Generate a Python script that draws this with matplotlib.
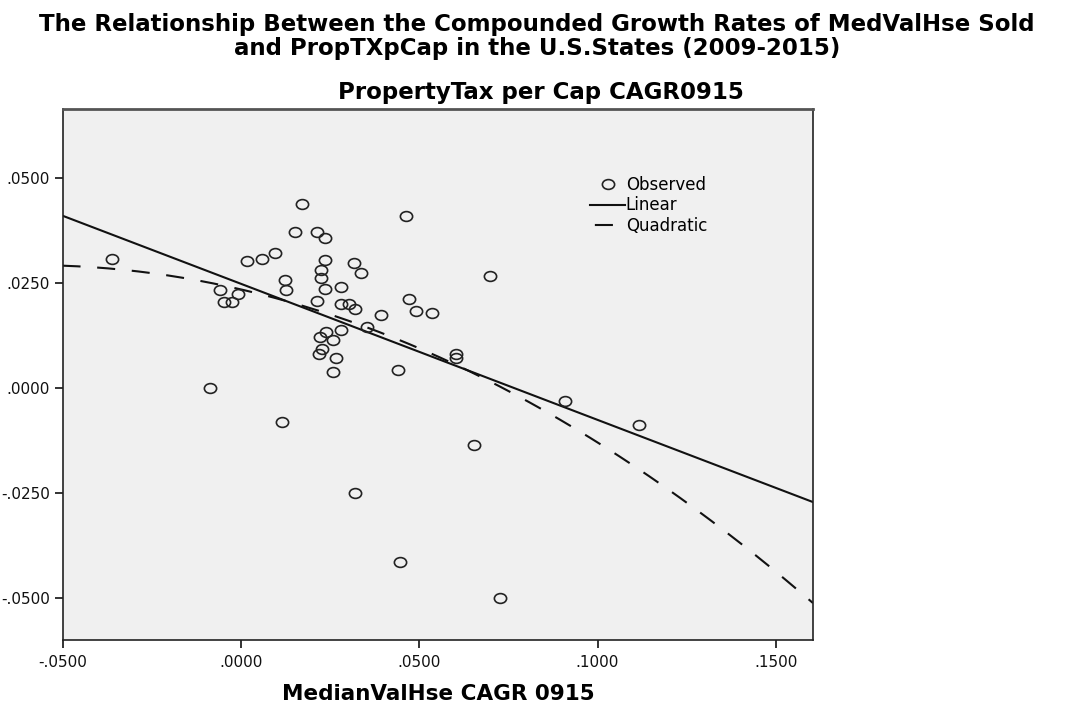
import numpy as np
import matplotlib
matplotlib.use("Agg")
import matplotlib.pyplot as plt
from matplotlib.lines import Line2D
from matplotlib.path import Path
from matplotlib.transforms import Affine2D

plt.rcParams['font.family'] = ['DejaVu Sans']
plt.rcParams['lines.scale_dashes'] = False

# Observed data (MedianValHse CAGR 0915, PropertyTax per Cap CAGR0915)
med_val_cagr = [0.0172, 0.0463, 0.0152, 0.0214, 0.0237, 0.0018, 0.0058, 0.0096, 0.0236, 0.0317,
                0.0337, 0.0226, 0.0226, 0.0125, 0.0126, 0.0237, 0.0282, 0.0698, -0.0059, -0.0008,
                -0.0048, -0.0025, 0.0214, 0.0280, 0.0302, 0.0320, 0.0394, 0.0470, 0.0490, 0.0537,
                0.0354, 0.0281, 0.0238, 0.0222, 0.0258, 0.0228, 0.0219, 0.0267, 0.0257, 0.0441,
                0.0603, 0.0603, -0.0087, 0.0116, -0.0360, 0.0908, 0.1117, 0.0654, 0.0319, 0.0445,
                0.0726]
prop_tax_cagr = [0.0437, 0.0410, 0.0371, 0.0371, 0.0357, 0.0301, 0.0308, 0.0321, 0.0304, 0.0298,
                 0.0273, 0.0280, 0.0261, 0.0257, 0.0233, 0.0236, 0.0241, 0.0267, 0.0233, 0.0224,
                 0.0204, 0.0204, 0.0208, 0.0200, 0.0199, 0.0189, 0.0173, 0.0211, 0.0184, 0.0178,
                 0.0145, 0.0138, 0.0132, 0.0121, 0.0114, 0.0093, 0.0081, 0.0071, 0.0037, 0.0042,
                 0.0080, 0.0071, -0.0001, -0.0082, 0.0306, -0.0031, -0.0088, -0.0136, -0.0249, -0.0415,
                 -0.0501]

# Fitted curve coefficients (constant, b1, b2)
linear_coef = [0.0248, -0.324]
quad_coef = [0.02346, -0.1967, -1.676]

x_ticks = [-0.05, 0.0, 0.05, 0.10, 0.15]
x_tick_labels = ['-.0500', '.0000', '.0500', '.1000', '.1500']
y_ticks = [-0.05, -0.025, 0.0, 0.025, 0.05]
y_tick_labels = ['-.0500', '-.0250', '.0000', '.0250', '.0500']
x_range = [-0.05, 0.1604]
y_range = [-0.060, 0.0664]

W, H = 1065, 707
fig = plt.figure(figsize=(W / 100, H / 100), dpi=100)
fig.patch.set_facecolor('white')
ax = fig.add_axes([62.5 / W, 1 - 640 / H, (813 - 62.5) / W, (640 - 109) / H])
ax.set_facecolor('#f0f0f0')

# slightly wide open ellipse marker (as in the reference rendering)
circ = Path.unit_circle()
ellipse_marker = Path(Affine2D().scale(1.25, 1.0).transform(circ.vertices), circ.codes)

xs = np.linspace(x_range[0], x_range[1], 300)
ax.plot(xs, linear_coef[0] + linear_coef[1] * xs, color='#111111', lw=1.5, zorder=2)
ax.plot(xs, quad_coef[0] + quad_coef[1] * xs + quad_coef[2] * xs ** 2, color='#111111', lw=1.5,
        linestyle=(0, (13, 12)), zorder=2)
ax.plot(med_val_cagr, prop_tax_cagr, linestyle='none', marker=ellipse_marker, markersize=8.8,
        markerfacecolor='none', markeredgecolor='#222222', markeredgewidth=1.2, zorder=3)

ax.set_xlim(*x_range)
ax.set_ylim(*y_range)
ax.set_xticks(x_ticks)
ax.set_xticklabels(x_tick_labels)
ax.set_yticks(y_ticks)
ax.set_yticklabels(y_tick_labels)
ax.tick_params(axis='both', direction='out', length=6, width=1.2, labelsize=11, colors='#111111')
ax.tick_params(axis='x', pad=5)
ax.tick_params(axis='y', pad=3)
for side in ['left', 'bottom', 'right']:
    ax.spines[side].set_color('#222222')
    ax.spines[side].set_linewidth(1.2)
ax.spines['top'].set_color('#555555')
ax.spines['top'].set_linewidth(2.0)

handles = [
    Line2D([], [], linestyle='none', marker=ellipse_marker, markersize=8.8, markerfacecolor='none',
           markeredgecolor='#222222', markeredgewidth=1.2),
    Line2D([], [], color='#111111', lw=1.5),
    Line2D([], [], color='#111111', lw=1.5, linestyle=(-3.5, (13, 30))),
]
leg = ax.legend(handles, ['Observed', 'Linear', 'Quadratic'], loc='upper left',
                bbox_to_anchor=((590 - 62.5) / (813 - 62.5), 1 - (176 - 109) / (640 - 109)),
                frameon=False, fontsize=12, handlelength=2.1, handletextpad=0.05,
                labelspacing=0.15, borderaxespad=0, borderpad=0)

fig.text(537 / W, 1 - 25 / H, 'The Relationship Between the Compounded Growth Rates of MedValHse Sold',
         ha='center', va='center', fontsize=16.5, fontweight='bold')
fig.text(537 / W, 1 - 49 / H, 'and PropTXpCap in the U.S.States (2009-2015)',
         ha='center', va='center', fontsize=16.5, fontweight='bold')
fig.text(541 / W, 1 - 92 / H, 'PropertyTax per Cap CAGR0915', ha='center', va='center',
         fontsize=16.5, fontweight='bold')
fig.text(438 / W, 1 - 694 / H, 'MedianValHse CAGR 0915', ha='center', va='center',
         fontsize=15.5, fontweight='bold')

fig.savefig('out.png', dpi=100, facecolor='white')
